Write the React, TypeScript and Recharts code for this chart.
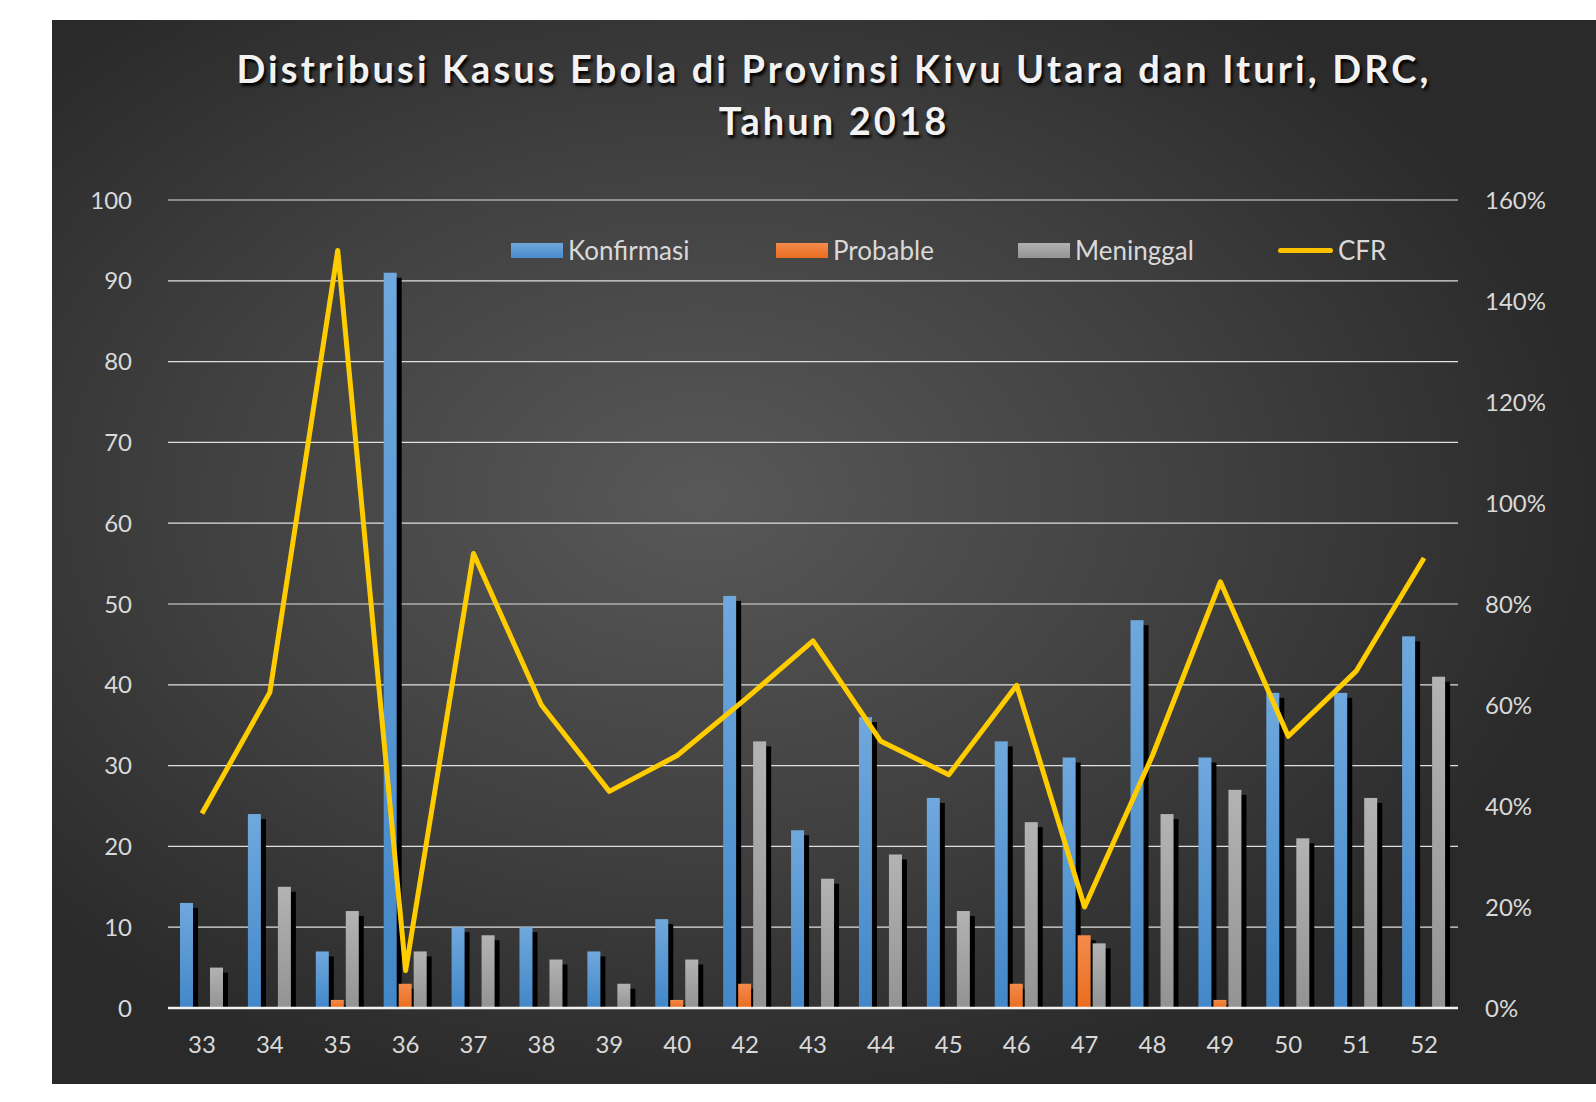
import { ComposedChart, Bar, Line, XAxis, YAxis, CartesianGrid, Legend } from "recharts";

const weeks = ["33", "34", "35", "36", "37", "38", "39", "40", "42", "43", "44", "45", "46", "47", "48", "49", "50", "51", "52"];
const konfirmasi = [13, 24, 7, 91, 10, 10, 7, 11, 51, 22, 36, 26, 33, 31, 48, 31, 39, 39, 46];
const probable = [0, 0, 1, 3, 0, 0, 0, 1, 3, 0, 0, 0, 3, 9, 0, 1, 0, 0, 0];
const meninggal = [5, 15, 12, 7, 9, 6, 3, 6, 33, 16, 19, 12, 23, 8, 24, 27, 21, 26, 41];
// CFR dalam persen
const cfr = [38.5, 62.5, 150, 7.4, 90, 60, 42.9, 50, 61.1, 72.7, 52.8, 46.2, 63.9, 20, 50, 84.4, 53.8, 66.7, 89.1];

const leftTicks = [0, 10, 20, 30, 40, 50, 60, 70, 80, 90, 100];
const rightTicks = [0, 0.2, 0.4, 0.6, 0.8, 1.0, 1.2, 1.4, 1.6];

const data = weeks.map((w, i) => ({
  week: w,
  konfirmasi: konfirmasi[i],
  probable: probable[i],
  meninggal: meninggal[i],
  cfr: cfr[i] / 100,
}));

const FONT = "Lato, 'Open Sans', sans-serif";
const TXT = "#d9d9d9";

const ShadowBar = (props: any) => {
  const { x, y, width, height, fill } = props;
  if (!height || height <= 0) return null;
  return (
    <g>
      <rect x={x + 5} y={y + 5} width={width} height={Math.max(0, height - 5)} fill="#000" />
      <rect x={x} y={y} width={width} height={height} fill={fill} />
    </g>
  );
};

const legendItems = [
  { label: "Konfirmasi", fill: "url(#gBlue)", type: "bar" },
  { label: "Probable", fill: "url(#gOrange)", type: "bar" },
  { label: "Meninggal", fill: "url(#gGray)", type: "bar" },
  { label: "CFR", fill: "#ffc000", type: "line" },
];
const legendX = [459, 724, 966, 1226];

const renderLegend = () => (
  <div style={{ position: "relative", height: 30, fontFamily: FONT, fontSize: 26, color: TXT }}>
    {legendItems.map((it, i) => (
      <div key={i} style={{ position: "absolute", left: legendX[i], top: 0, display: "flex", alignItems: "center", height: 30 }}>
        {it.type === "bar" ? (
          <div
            style={{
              width: 52,
              height: 15,
              background:
                i === 0
                  ? "linear-gradient(#6fa8dc, #4a8bcc)"
                  : i === 1
                  ? "linear-gradient(#f48b4c, #e96d1f)"
                  : "linear-gradient(#b0b0b0, #959595)",
            }}
          />
        ) : (
          <div style={{ width: 55, height: 5, borderRadius: 3, background: it.fill }} />
        )}
        <span style={{ marginLeft: 5 }}>{it.label}</span>
      </div>
    ))}
  </div>
);

export default function App() {
  return (
    <div style={{ position: "absolute", left: 0, top: 0, width: 1596, height: 1102, background: "#fff", fontFamily: FONT }}>
      <div
        style={{
          position: "absolute",
          left: 52,
          top: 20,
          width: 1544,
          height: 1064,
          background: "radial-gradient(ellipse 65% 65% at 42% 45%, #585858 0%, #404040 50%, #2a2a2a 90%)",
        }}
      >
        <div
          style={{
            position: "absolute",
            left: 0,
            top: 22,
            width: 1564,
            textAlign: "center",
            color: "#f2f2f2",
            fontWeight: 700,
            fontSize: 38,
            lineHeight: "52px",
            letterSpacing: 3.1,
            textShadow: "2px 3px 3px #000",
          }}
        >
          Distribusi Kasus Ebola di Provinsi Kivu Utara dan Ituri, DRC,
          <br />
          Tahun 2018
        </div>
        <ComposedChart
          width={1544}
          height={1064}
          data={data}
          margin={{ top: 150, right: 0, left: 0, bottom: 0 }}
          barSize={13}
          barGap={2}
        >
          <defs>
            <linearGradient id="gBlue" x1="0" y1="0" x2="0" y2="1">
              <stop offset="0%" stopColor="#6fa8dc" />
              <stop offset="100%" stopColor="#4387c8" />
            </linearGradient>
            <linearGradient id="gOrange" x1="0" y1="0" x2="0" y2="1">
              <stop offset="0%" stopColor="#f48b4c" />
              <stop offset="100%" stopColor="#e96d1f" />
            </linearGradient>
            <linearGradient id="gGray" x1="0" y1="0" x2="0" y2="1">
              <stop offset="0%" stopColor="#b3b3b3" />
              <stop offset="100%" stopColor="#939393" />
            </linearGradient>
          </defs>
          <CartesianGrid yAxisId="left" vertical={false} stroke="#e0e0e0" strokeWidth={1.2} />
          <XAxis
            dataKey="week"
            height={76}
            tickLine={false}
            axisLine={{ stroke: "#f2f2f2", strokeWidth: 2.5 }}
            tick={{ fill: TXT, fontSize: 24, fontFamily: FONT }}
            tickMargin={22}
            interval={0}
          />
          <YAxis
            yAxisId="left"
            width={116}
            domain={[0, 100]}
            ticks={leftTicks}
            tickLine={false}
            axisLine={false}
            tick={{ fill: TXT, fontSize: 24, fontFamily: FONT }}
            tickMargin={30}
          />
          <YAxis
            yAxisId="right"
            orientation="right"
            width={138}
            domain={[0, 1.6]}
            ticks={rightTicks}
            tickFormatter={(v: number) => `${Math.round(v * 100)}%`}
            tickLine={false}
            axisLine={false}
            tick={{ fill: TXT, fontSize: 24, fontFamily: FONT }}
            tickMargin={21}
          />
          <Legend verticalAlign="top" content={renderLegend} wrapperStyle={{ top: 215, left: 0, width: 1544 }} />
          <Bar yAxisId="left" dataKey="konfirmasi" name="Konfirmasi" fill="url(#gBlue)" shape={ShadowBar} isAnimationActive={false} />
          <Bar yAxisId="left" dataKey="probable" name="Probable" fill="url(#gOrange)" shape={ShadowBar} isAnimationActive={false} />
          <Bar yAxisId="left" dataKey="meninggal" name="Meninggal" fill="url(#gGray)" shape={ShadowBar} isAnimationActive={false} />
          <Line
            yAxisId="right"
            type="linear"
            dataKey="cfr"
            name="CFR"
            stroke="#ffcc00"
            strokeWidth={5}
            dot={false}
            strokeLinejoin="round"
            isAnimationActive={false}
          />
        </ComposedChart>
      </div>
    </div>
  );
}
